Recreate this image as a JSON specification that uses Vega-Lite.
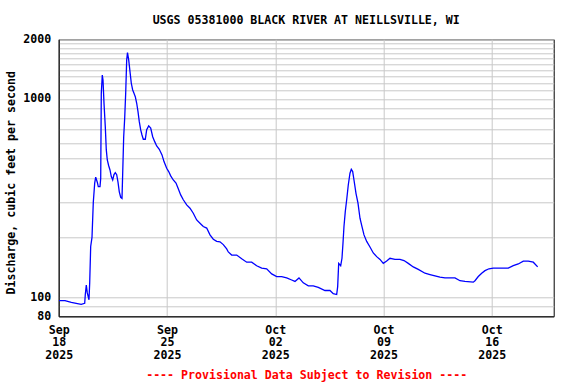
{
  "$schema": "https://vega.github.io/schema/vega-lite/v6.json",
  "width": 495,
  "height": 277,
  "autosize": "none",
  "padding": {"left": 58.7, "top": 39.3, "right": 22.3, "bottom": 67.7},
  "background": "white",
  "title": {
    "text": "USGS 05381000 BLACK RIVER AT NEILLSVILLE, WI",
    "font": "DejaVu Sans Mono",
    "fontWeight": "bold",
    "fontSize": 11.6,
    "color": "black",
    "anchor": "middle",
    "baseline": "bottom",
    "offset": -4
  },
  "config": {
    "view": {"stroke": "black", "strokeWidth": 1},
    "axis": {
      "labelFont": "DejaVu Sans Mono",
      "labelFontWeight": "bold",
      "labelFontSize": 11.6,
      "labelColor": "black",
      "titleFont": "DejaVu Sans Mono",
      "titleFontWeight": "bold",
      "titleFontSize": 11.6,
      "titleColor": "black",
      "gridColor": "#c8c8c8",
      "gridWidth": 1,
      "gridOpacity": 1,
      "domainColor": "black",
      "ticks": false,
      "tickSize": 0
    }
  },
  "data": {
    "values": [
      {"t": "2025-09-18T00:28", "q": 96},
      {"t": "2025-09-18T09:46", "q": 96},
      {"t": "2025-09-18T19:33", "q": 94},
      {"t": "2025-09-19T03:10", "q": 93},
      {"t": "2025-09-19T10:55", "q": 92},
      {"t": "2025-09-19T16:20", "q": 93},
      {"t": "2025-09-19T17:16", "q": 103},
      {"t": "2025-09-19T18:49", "q": 115},
      {"t": "2025-09-19T20:22", "q": 105},
      {"t": "2025-09-19T23:00", "q": 97},
      {"t": "2025-09-20T00:05", "q": 118},
      {"t": "2025-09-20T01:38", "q": 180},
      {"t": "2025-09-20T03:40", "q": 200},
      {"t": "2025-09-20T05:41", "q": 301},
      {"t": "2025-09-20T07:51", "q": 376},
      {"t": "2025-09-20T09:24", "q": 403},
      {"t": "2025-09-20T11:53", "q": 380},
      {"t": "2025-09-20T13:26", "q": 361},
      {"t": "2025-09-20T16:04", "q": 361},
      {"t": "2025-09-20T17:10", "q": 397},
      {"t": "2025-09-20T18:05", "q": 1069},
      {"t": "2025-09-20T19:38", "q": 1321},
      {"t": "2025-09-20T20:44", "q": 1247},
      {"t": "2025-09-20T22:17", "q": 951},
      {"t": "2025-09-21T00:17", "q": 725},
      {"t": "2025-09-21T01:51", "q": 553},
      {"t": "2025-09-21T03:24", "q": 492},
      {"t": "2025-09-21T05:34", "q": 460},
      {"t": "2025-09-21T07:35", "q": 438},
      {"t": "2025-09-21T09:36", "q": 406},
      {"t": "2025-09-21T11:47", "q": 390},
      {"t": "2025-09-21T13:47", "q": 415},
      {"t": "2025-09-21T15:49", "q": 425},
      {"t": "2025-09-21T17:59", "q": 415},
      {"t": "2025-09-21T20:00", "q": 380},
      {"t": "2025-09-21T22:01", "q": 340},
      {"t": "2025-09-22T00:11", "q": 319},
      {"t": "2025-09-22T02:12", "q": 315},
      {"t": "2025-09-22T03:17", "q": 422},
      {"t": "2025-09-22T04:50", "q": 645},
      {"t": "2025-09-22T06:23", "q": 800},
      {"t": "2025-09-22T07:56", "q": 1069},
      {"t": "2025-09-22T09:30", "q": 1574},
      {"t": "2025-09-22T10:44", "q": 1712},
      {"t": "2025-09-22T12:36", "q": 1574},
      {"t": "2025-09-22T14:37", "q": 1374},
      {"t": "2025-09-22T16:38", "q": 1200},
      {"t": "2025-09-22T18:48", "q": 1110},
      {"t": "2025-09-22T20:49", "q": 1069},
      {"t": "2025-09-22T22:50", "q": 1027},
      {"t": "2025-09-23T01:01", "q": 951},
      {"t": "2025-09-23T03:02", "q": 863},
      {"t": "2025-09-23T05:02", "q": 768},
      {"t": "2025-09-23T07:13", "q": 698},
      {"t": "2025-09-23T09:14", "q": 658},
      {"t": "2025-09-23T11:15", "q": 626},
      {"t": "2025-09-23T14:21", "q": 626},
      {"t": "2025-09-23T16:31", "q": 700},
      {"t": "2025-09-23T19:38", "q": 731},
      {"t": "2025-09-23T22:44", "q": 712},
      {"t": "2025-09-24T01:50", "q": 645},
      {"t": "2025-09-24T04:56", "q": 609},
      {"t": "2025-09-24T08:02", "q": 579},
      {"t": "2025-09-24T12:04", "q": 557},
      {"t": "2025-09-24T16:16", "q": 522},
      {"t": "2025-09-24T19:22", "q": 483},
      {"t": "2025-09-24T23:33", "q": 447},
      {"t": "2025-09-25T02:39", "q": 430},
      {"t": "2025-09-25T05:46", "q": 409},
      {"t": "2025-09-25T09:47", "q": 390},
      {"t": "2025-09-25T13:59", "q": 376},
      {"t": "2025-09-25T17:05", "q": 355},
      {"t": "2025-09-25T21:16", "q": 328},
      {"t": "2025-09-26T01:18", "q": 310},
      {"t": "2025-09-26T06:35", "q": 292},
      {"t": "2025-09-26T11:42", "q": 281},
      {"t": "2025-09-26T16:49", "q": 265},
      {"t": "2025-09-26T22:05", "q": 245},
      {"t": "2025-09-27T03:13", "q": 236},
      {"t": "2025-09-27T08:20", "q": 227},
      {"t": "2025-09-27T13:37", "q": 223},
      {"t": "2025-09-27T18:44", "q": 206},
      {"t": "2025-09-27T23:51", "q": 196},
      {"t": "2025-09-28T05:07", "q": 191},
      {"t": "2025-09-28T10:14", "q": 190},
      {"t": "2025-09-28T15:22", "q": 184},
      {"t": "2025-09-28T20:38", "q": 175},
      {"t": "2025-09-28T23:07", "q": 169},
      {"t": "2025-09-29T04:23", "q": 163},
      {"t": "2025-09-29T12:09", "q": 163},
      {"t": "2025-09-29T19:55", "q": 156},
      {"t": "2025-09-30T03:40", "q": 150},
      {"t": "2025-09-30T11:25", "q": 150},
      {"t": "2025-09-30T19:11", "q": 144},
      {"t": "2025-10-01T02:56", "q": 140},
      {"t": "2025-10-01T10:41", "q": 139},
      {"t": "2025-10-01T18:27", "q": 131},
      {"t": "2025-10-02T02:12", "q": 127},
      {"t": "2025-10-02T09:58", "q": 127},
      {"t": "2025-10-02T17:43", "q": 125},
      {"t": "2025-10-03T01:29", "q": 122},
      {"t": "2025-10-03T06:36", "q": 120},
      {"t": "2025-10-03T12:48", "q": 125},
      {"t": "2025-10-03T19:28", "q": 118},
      {"t": "2025-10-04T03:14", "q": 114},
      {"t": "2025-10-04T10:59", "q": 114},
      {"t": "2025-10-04T18:44", "q": 112},
      {"t": "2025-10-05T05:08", "q": 108},
      {"t": "2025-10-05T12:53", "q": 108},
      {"t": "2025-10-05T18:01", "q": 104},
      {"t": "2025-10-05T23:17", "q": 103},
      {"t": "2025-10-06T00:50", "q": 113},
      {"t": "2025-10-06T02:24", "q": 148},
      {"t": "2025-10-06T05:30", "q": 144},
      {"t": "2025-10-06T07:31", "q": 157},
      {"t": "2025-10-06T09:04", "q": 187},
      {"t": "2025-10-06T10:37", "q": 227},
      {"t": "2025-10-06T12:38", "q": 270},
      {"t": "2025-10-06T14:49", "q": 310},
      {"t": "2025-10-06T17:17", "q": 368},
      {"t": "2025-10-06T19:56", "q": 422},
      {"t": "2025-10-06T21:57", "q": 442},
      {"t": "2025-10-07T00:07", "q": 430},
      {"t": "2025-10-07T02:08", "q": 390},
      {"t": "2025-10-07T05:14", "q": 334},
      {"t": "2025-10-07T08:21", "q": 298},
      {"t": "2025-10-07T11:27", "q": 250},
      {"t": "2025-10-07T14:33", "q": 227},
      {"t": "2025-10-07T17:40", "q": 206},
      {"t": "2025-10-07T21:51", "q": 191},
      {"t": "2025-10-08T02:58", "q": 179},
      {"t": "2025-10-08T08:05", "q": 167},
      {"t": "2025-10-08T13:22", "q": 160},
      {"t": "2025-10-08T18:29", "q": 155},
      {"t": "2025-10-08T23:36", "q": 148},
      {"t": "2025-10-09T04:53", "q": 152},
      {"t": "2025-10-09T10:00", "q": 157},
      {"t": "2025-10-09T17:46", "q": 155},
      {"t": "2025-10-10T01:31", "q": 155},
      {"t": "2025-10-10T07:43", "q": 153},
      {"t": "2025-10-10T14:23", "q": 148},
      {"t": "2025-10-10T22:08", "q": 142},
      {"t": "2025-10-11T05:54", "q": 138},
      {"t": "2025-10-11T16:18", "q": 132},
      {"t": "2025-10-12T00:03", "q": 130},
      {"t": "2025-10-12T07:49", "q": 128},
      {"t": "2025-10-12T15:34", "q": 126},
      {"t": "2025-10-12T23:19", "q": 125},
      {"t": "2025-10-13T14:50", "q": 125},
      {"t": "2025-10-13T22:36", "q": 121},
      {"t": "2025-10-14T06:21", "q": 120},
      {"t": "2025-10-14T19:14", "q": 119},
      {"t": "2025-10-14T21:52", "q": 121},
      {"t": "2025-10-15T02:59", "q": 127},
      {"t": "2025-10-15T08:16", "q": 132},
      {"t": "2025-10-15T13:23", "q": 136},
      {"t": "2025-10-15T19:35", "q": 139},
      {"t": "2025-10-16T02:16", "q": 140},
      {"t": "2025-10-17T01:32", "q": 140},
      {"t": "2025-10-17T09:17", "q": 144},
      {"t": "2025-10-17T17:02", "q": 147},
      {"t": "2025-10-18T00:48", "q": 152},
      {"t": "2025-10-18T08:34", "q": 152},
      {"t": "2025-10-18T16:19", "q": 150},
      {"t": "2025-10-18T23:08", "q": 142}
    ]
  },
  "mark": {"type": "line", "color": "#0000ff", "strokeWidth": 1.3, "clip": true},
  "encoding": {
    "x": {
      "field": "t",
      "type": "temporal",
      "scale": {
        "domain": [
          {"year": 2025, "month": 9, "date": 18, "hours": 0},
          {"year": 2025, "month": 10, "date": 20, "hours": 0}
        ]
      },
      "axis": {
        "values": [
          {"year": 2025, "month": 9, "date": 18},
          {"year": 2025, "month": 9, "date": 25},
          {"year": 2025, "month": 10, "date": 2},
          {"year": 2025, "month": 10, "date": 9},
          {"year": 2025, "month": 10, "date": 16}
        ],
        "labelExpr": "[timeFormat(datum.value, '%b'), timeFormat(datum.value, '%d'), timeFormat(datum.value, '%Y')]",
        "labelFlush": false,
        "labelOverlap": false,
        "labelPadding": 8,
        "labelLineHeight": 12.6,
        "labelBaseline": "top",
        "title": "---- Provisional Data Subject to Revision ----",
        "titleColor": "#ff0000",
        "titleBaseline": "middle",
        "titleY": 59
      }
    },
    "y": {
      "field": "q",
      "type": "quantitative",
      "scale": {"type": "log", "domain": [80, 2000], "nice": false},
      "axis": {
        "values": [80, 90, 100, 200, 300, 400, 500, 600, 700, 800, 900, 1000, 1100, 1200, 1300, 1400, 1500, 1600, 1700, 1800, 1900, 2000],
        "format": "d",
        "labelExpr": "indexof([80, 100, 1000, 2000], datum.value) >= 0 ? datum.label : ''",
        "labelOverlap": false,
        "labelFlush": false,
        "labelPadding": 8,
        "title": "Discharge, cubic feet per second",
        "titleAngle": -90,
        "titleAlign": "center",
        "titleBaseline": "middle",
        "titleX": -47,
        "titleY": 143
      }
    }
  }
}
